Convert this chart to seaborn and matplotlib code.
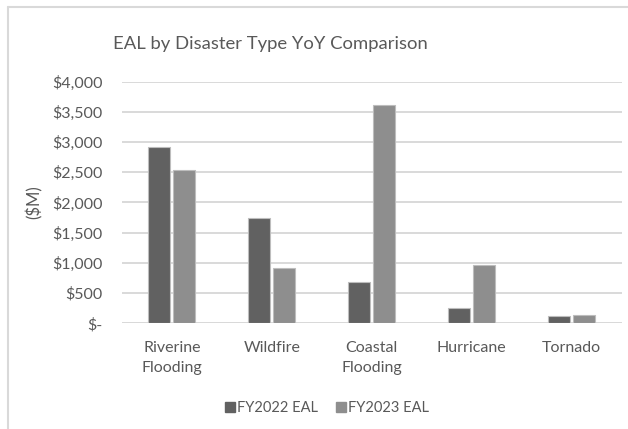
import matplotlib
matplotlib.use("Agg")
import matplotlib.pyplot as plt
from matplotlib.ticker import FuncFormatter
from matplotlib.lines import Line2D
import pandas as pd
import seaborn as sns

# Expected annual loss ($M) by disaster type
categories = ["Riverine\nFlooding", "Wildfire", "Coastal\nFlooding", "Hurricane", "Tornado"]
fy2022 = [2920, 1740, 680, 245, 115]
fy2023 = [2530, 920, 3620, 960, 130]
series_names = ["FY2022 EAL", "FY2023 EAL"]
y_ticks = [0, 500, 1000, 1500, 2000, 2500, 3000, 3500, 4000]

df = pd.DataFrame({
    "Disaster": categories * 2,
    "EAL": fy2022 + fy2023,
    "Series": [series_names[0]] * len(categories) + [series_names[1]] * len(categories),
})

sns.set_theme(style="white")
plt.rcParams["font.family"] = ["Lato", "DejaVu Sans"]
text_color = "#595959"
grid_color = "#d9d9d9"

fig = plt.figure(figsize=(6.28, 4.29), dpi=100)
ax = fig.add_axes([0.194, 0.2464, 0.796, 0.5632])

sns.barplot(
    data=df, x="Disaster", y="EAL", hue="Series",
    order=categories, hue_order=series_names,
    palette=["#616161", "#8e8e8e"], width=0.5, gap=0.12,
    edgecolor="#bdbdbd", linewidth=0.8, saturation=1, ax=ax, zorder=3,
)

ax.set_ylim(0, 4000)
ax.set_xlim(-0.5, len(categories) - 0.5)
ax.set_yticks(y_ticks)
ax.yaxis.set_major_formatter(FuncFormatter(lambda v, _: "$-" if v == 0 else f"${v:,.0f}"))
ax.yaxis.grid(True, color=grid_color, linewidth=1.4, zorder=0)
ax.set_axisbelow(True)
for side in ["top", "right", "left", "bottom"]:
    ax.spines[side].set_visible(False)
ax.axhline(0, color=grid_color, linewidth=1.4, zorder=1)

ax.tick_params(axis="both", length=0, colors=text_color, labelsize=11.5)
ax.tick_params(axis="x", pad=13)
ax.tick_params(axis="y", pad=14)
for lbl in ax.get_xticklabels():
    lbl.set_linespacing(1.5)
ax.set_xlabel("")
ax.set_ylabel("($M)", color=text_color, fontsize=12)
ax.yaxis.set_label_coords(-0.158, 0.5)

fig.text(0.43, 0.898, "EAL by Disaster Type YoY Comparison",
         ha="center", va="center", fontsize=13.3, color=text_color)

ax.get_legend().remove()
handles = [Line2D([0], [0], marker="s", linestyle="", markersize=7,
                  markerfacecolor=c, markeredgecolor=c)
           for c in ["#616161", "#8e8e8e"]]
fig.legend(handles, series_names, loc="center", bbox_to_anchor=(0.52, 0.048),
           ncol=2, frameon=False, fontsize=10.5, labelcolor=text_color,
           handletextpad=0.1, columnspacing=1.2, handlelength=0.8)

# Chart area frame (left and top edges)
fig.add_artist(Line2D([0.0135, 0.0135], [0.0, 0.984], transform=fig.transFigure,
                      color=grid_color, linewidth=1.5))
fig.add_artist(Line2D([0.0135, 1.0], [0.984, 0.984], transform=fig.transFigure,
                      color=grid_color, linewidth=1.5))

fig.savefig("out.png", dpi=100, facecolor="white")
